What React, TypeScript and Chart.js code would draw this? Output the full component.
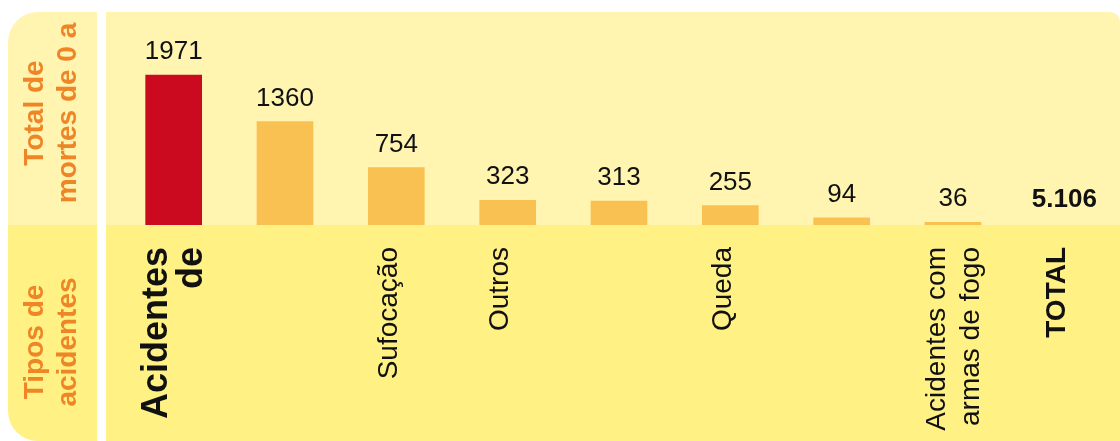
import React, { useEffect, useRef } from "react";
import { Chart, registerables } from "chart.js";

Chart.register(...registerables);

// ---- data ----
const categories: (string | string[])[] = [
  ["Acidentes", "de"],
  "",
  "Sufocação",
  "Outros",
  "",
  "Queda",
  "",
  ["Acidentes com", "armas de fogo"],
  "TOTAL",
];
const deaths: (number | null)[] = [1971, 1360, 754, 323, 313, 255, 94, 36, null];
const barColors = [
  "#CC0A1F",
  "#F9C152",
  "#F9C152",
  "#F9C152",
  "#F9C152",
  "#F9C152",
  "#F9C152",
  "#F9C152",
  "#F9C152",
];
const topTitle = ["Total de", "mortes de 0 a"];
const bottomTitle = ["Tipos de", "acidentes"];
const yMax = 2800;

const FONT = '"Liberation Sans", Arial, Helvetica, sans-serif';
const LIGHT = "#FFF5B1";
const DARK = "#FFF184";
const ORANGE = "#EE8527";

const total = deaths.reduce((s: number, v) => s + (v ?? 0), 0);
const fmt = (n: number) => String(n).replace(/\B(?=(\d{3})+(?!\d))/g, ".");

const backgroundPlugin = {
  id: "panels",
  beforeDraw(chart: any) {
    const { ctx, width, height, chartArea } = chart;
    const split = chartArea.bottom;
    ctx.save();
    ctx.fillStyle = "#ffffff";
    ctx.fillRect(0, 0, width, height);

    // left column
    ctx.save();
    ctx.beginPath();
    (ctx as any).roundRect(8, 12, 89, height - 12, [30, 0, 0, 30]);
    ctx.clip();
    ctx.fillStyle = LIGHT;
    ctx.fillRect(8, 12, 89, split - 12);
    ctx.fillStyle = DARK;
    ctx.fillRect(8, split, 89, height - split);
    ctx.restore();

    // main panel
    ctx.save();
    ctx.beginPath();
    (ctx as any).roundRect(106, 12, width - 106, height - 12, [0, 10, 0, 0]);
    ctx.clip();
    ctx.fillStyle = LIGHT;
    ctx.fillRect(106, 12, width - 106, split - 12);
    ctx.fillStyle = DARK;
    ctx.fillRect(106, split, width - 106, height - split);
    ctx.restore();

    // left titles
    const drawTitle = (lines: string[], cy: number) => {
      ctx.save();
      ctx.translate(52, cy);
      ctx.rotate(-Math.PI / 2);
      ctx.fillStyle = ORANGE;
      ctx.font = `bold 28px ${FONT}`;
      ctx.textAlign = "center";
      ctx.textBaseline = "middle";
      const lh = 33;
      lines.forEach((l, i) => {
        ctx.fillText(l, 0, (i - (lines.length - 1) / 2) * lh);
      });
      ctx.restore();
    };
    drawTitle(topTitle, 113);
    drawTitle(bottomTitle, 342);
    ctx.restore();
  },
};

// centre multi-line rotated tick labels on their tick (Chart.js stacks them to one side)
const centerMultilinePlugin = {
  id: "centerMultiline",
  beforeDraw(chart: any) {
    const s = chart.scales.x;
    if (!s || !s.getLabelItems) return;
    const items = s.getLabelItems(chart.chartArea);
    items.forEach((it: any) => {
      if (it.__shifted) return;
      const lbl = it.label;
      if (Array.isArray(lbl) && lbl.length > 1 && it.options && it.options.translation) {
        const lh = it.font && it.font.lineHeight ? it.font.lineHeight : 34;
        it.options.translation[0] -= ((lbl.length - 1) * lh) / 2 - 8;
      }
      it.__shifted = true;
    });
  },
};

const valueLabelPlugin = {
  id: "valueLabels",
  afterDatasetsDraw(chart: any) {
    const { ctx } = chart;
    const meta = chart.getDatasetMeta(0);
    const xs = chart.scales.x;
    const ys = chart.scales.y;
    ctx.save();
    ctx.fillStyle = "#111111";
    ctx.textAlign = "center";
    ctx.textBaseline = "alphabetic";
    deaths.forEach((v, i) => {
      const x = xs.getPixelForTick(i);
      if (v == null) {
        ctx.font = `bold 26px ${FONT}`;
        ctx.fillText(fmt(total), x, ys.getPixelForValue(0) - 18);
      } else {
        ctx.font = `26px ${FONT}`;
        const bar = meta.data[i];
        ctx.fillText(String(v), x, bar.y - 16);
      }
    });
    ctx.restore();
  },
};

export default function App() {
  const ref = useRef<HTMLCanvasElement | null>(null);
  useEffect(() => {
    if (!ref.current) return;
    const chart = new Chart(ref.current, {
      type: "bar",
      data: {
        labels: categories as any,
        datasets: [
          {
            data: deaths as any,
            backgroundColor: barColors,
            borderWidth: 0,
            barThickness: 56,
          },
        ],
      },
      options: {
        animation: false,
        responsive: false,
        maintainAspectRatio: false,
        layout: { padding: { left: 118, right: 0, top: 12, bottom: 0 } },
        plugins: {
          legend: { display: false },
          tooltip: { enabled: false },
        },
        scales: {
          x: {
            grid: { display: false },
            border: { display: false },
            afterFit: (scale: any) => {
              scale.height = 216;
            },
            ticks: {
              autoSkip: false,
              minRotation: 90,
              maxRotation: 90,
              padding: 14,
              labelOffset: -7,
              color: "#111111",
              font: (c: any) => {
                if (c.index === 0)
                  return { family: FONT, size: 36, weight: "bold", lineHeight: 0.97 };
                if (c.index === 8)
                  return { family: FONT, size: 28, weight: "bold", lineHeight: 1.2 };
                return { family: FONT, size: 28, weight: "normal", lineHeight: 1.21 };
              },
            },
          },
          y: {
            display: false,
            min: 0,
            max: yMax,
          },
        },
      },
      plugins: [backgroundPlugin, centerMultilinePlugin, valueLabelPlugin],
    });
    return () => chart.destroy();
  }, []);
  return (
    <div style={{ position: "fixed", left: 0, top: 0, width: 1120, height: 441 }}>
      <canvas ref={ref} width={1120} height={441} />
    </div>
  );
}
